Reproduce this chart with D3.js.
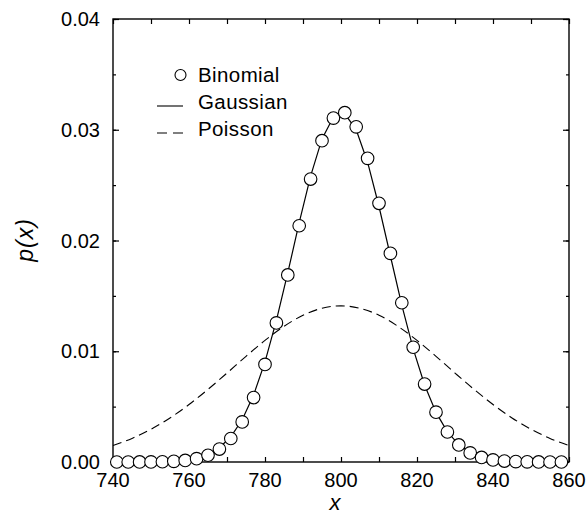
<!DOCTYPE html>
<html>
<head>
<meta charset="utf-8">
<script src="https://cdn.jsdelivr.net/npm/d3@7"></script>
<style>
  body { margin: 0; background: #fff; }
  svg { display: block; font-family: "Liberation Sans", Arial, sans-serif; }
</style>
</head>
<body>
<div id="chart"></div>
<script>
// binomial points (x, p)
const binomX = [741, 744, 747, 750, 753, 756, 759, 762, 765, 768, 771, 774, 777, 780, 783, 786, 789, 792, 795, 798,
  801, 804, 807, 810, 813, 816, 819, 822, 825, 828, 831, 834, 837, 840, 843, 846, 849, 852, 855, 858];
const binomP = [0.0000003, 0.000001, 0.000003, 0.000009, 0.000024, 0.00006, 0.00014, 0.0003, 0.00061, 0.00117,
  0.00212, 0.00362, 0.00582, 0.00881, 0.01256, 0.01689, 0.02133, 0.02555, 0.02901, 0.03105,
  0.03154, 0.03026, 0.02742, 0.02336, 0.01884, 0.01438, 0.01036, 0.00704, 0.0045, 0.00271,
  0.00154, 0.00082, 0.00041, 0.00019, 0.000085, 0.000035, 0.000013, 0.000005, 0.000002, 0.0000005];
// gaussian curve, same x
const gaussP = [0.0000006, 0.0000017, 0.0000049, 0.0000128, 0.000032, 0.000074, 0.000165, 0.000346, 0.000686, 0.00129,
  0.00228, 0.00381, 0.00604, 0.00904, 0.01278, 0.01709, 0.02161, 0.02582, 0.02917, 0.03115,
  0.03144, 0.03, 0.02707, 0.02307, 0.0186, 0.01417, 0.01021, 0.00695, 0.00448, 0.00272,
  0.00157, 0.00085, 0.00044, 0.00021, 0.0001, 0.000045, 0.000019, 0.000007, 0.0000025, 0.0000008];
// poisson curve
const poisX = [740, 745, 750, 755, 760, 765, 770, 775, 780, 785, 790, 795, 800,
  805, 810, 815, 820, 825, 830, 835, 840, 845, 850, 855, 860];
const poisP = [0.00149, 0.00213, 0.00296, 0.00398, 0.00519, 0.00656, 0.00803, 0.00954, 0.01098, 0.01225, 0.01325, 0.01388, 0.0141,
  0.01388, 0.01325, 0.01225, 0.01098, 0.00954, 0.00803, 0.00656, 0.00519, 0.00398, 0.00296, 0.00213, 0.00149];

const xTicks = [740, 760, 780, 800, 820, 840, 860];
const yTicks = [0, 0.01, 0.02, 0.03, 0.04];
const legendLabels = ["Binomial", "Gaussian", "Poisson"];

const W = 587, H = 515;
const margin = { top: 19, right: 18, bottom: 53, left: 113 };

const svg = d3.select("#chart").append("svg")
  .attr("width", W)
  .attr("height", H);

const x = d3.scaleLinear().domain([740, 860]).range([margin.left, W - margin.right]);
const y = d3.scaleLinear().domain([0, 0.04]).range([H - margin.bottom, margin.top]);

// axes - ticks pointing inward on all sides
const minorX = d3.range(740, 861, 10);
const minorY = d3.range(0, 0.0401, 0.005);

svg.append("g")
  .attr("transform", `translate(0,${y(0)})`)
  .call(d3.axisBottom(x).tickValues(minorX).tickSize(-5).tickFormat(""))
  .call(g => g.select(".domain").remove());
svg.append("g")
  .attr("transform", `translate(0,${y(0.04)})`)
  .call(d3.axisTop(x).tickValues(minorX).tickSize(-5).tickFormat(""))
  .call(g => g.select(".domain").remove());
svg.append("g")
  .attr("transform", `translate(${x(740)},0)`)
  .call(d3.axisLeft(y).tickValues(minorY).tickSize(-3).tickFormat(""))
  .call(g => g.select(".domain").remove());
svg.append("g")
  .attr("transform", `translate(${x(740)},0)`)
  .call(d3.axisLeft(y).tickValues(yTicks).tickSize(-6).tickFormat(""))
  .call(g => g.select(".domain").remove());
svg.append("g")
  .attr("transform", `translate(${x(860)},0)`)
  .call(d3.axisRight(y).tickValues(minorY).tickSize(-3).tickFormat(""))
  .call(g => g.select(".domain").remove());
svg.append("g")
  .attr("transform", `translate(${x(860)},0)`)
  .call(d3.axisRight(y).tickValues(yTicks).tickSize(-6).tickFormat(""))
  .call(g => g.select(".domain").remove());

svg.selectAll(".tick line").attr("stroke", "#000").attr("stroke-width", 1.2);

svg.append("rect")
  .attr("x", x(740)).attr("y", y(0.04))
  .attr("width", x(860) - x(740)).attr("height", y(0) - y(0.04))
  .attr("fill", "none").attr("stroke", "#000").attr("stroke-width", 1.4);

// tick labels
svg.append("g").selectAll("text")
  .data(xTicks).enter().append("text")
  .attr("x", d => x(d))
  .attr("y", y(0) + 25)
  .attr("text-anchor", "middle")
  .style("font-size", "20px")
  .text(d => d);

svg.append("g").selectAll("text")
  .data(yTicks).enter().append("text")
  .attr("x", x(740) - 13)
  .attr("y", d => y(d))
  .attr("dy", "0.35em")
  .attr("text-anchor", "end")
  .style("font-size", "20px")
  .text(d => d.toFixed(2));

// axis titles
svg.append("text")
  .attr("x", 335)
  .attr("y", 510)
  .attr("text-anchor", "middle")
  .style("font-size", "22px")
  .style("font-style", "italic")
  .text("x");

svg.append("text")
  .attr("transform", "translate(33,240) rotate(-90)")
  .attr("text-anchor", "middle")
  .style("font-size", "23px")
  .style("font-style", "italic")
  .style("letter-spacing", "1px")
  .text("p(x)");

// curves
const poisData = poisX.map((d, i) => ({ x: d, p: poisP[i] }));
const gaussData = binomX.map((d, i) => ({ x: d, p: gaussP[i] }));
const binomData = binomX.map((d, i) => ({ x: d, p: binomP[i] }));

svg.append("path")
  .datum(poisData)
  .attr("fill", "none")
  .attr("stroke", "#000")
  .attr("stroke-width", 1.1)
  .attr("stroke-dasharray", "9,5")
  .attr("d", d3.line().x(d => x(d.x)).y(d => y(d.p)).curve(d3.curveMonotoneX));

svg.append("path")
  .datum(gaussData)
  .attr("fill", "none")
  .attr("stroke", "#000")
  .attr("stroke-width", 1.2)
  .attr("d", d3.line().x(d => x(d.x)).y(d => y(d.p)));

svg.append("g").selectAll("circle")
  .data(binomData).enter().append("circle")
  .attr("cx", d => x(d.x))
  .attr("cy", d => y(d.p))
  .attr("r", 6.3)
  .attr("fill", "#fff")
  .attr("stroke", "#000")
  .attr("stroke-width", 1.1);

// legend
const legend = svg.append("g");
legend.append("circle")
  .attr("cx", 180.5).attr("cy", 75).attr("r", 5.5)
  .attr("fill", "#fff").attr("stroke", "#000").attr("stroke-width", 1.1);
legend.append("line")
  .attr("x1", 157).attr("x2", 183).attr("y1", 106).attr("y2", 106)
  .attr("stroke", "#000").attr("stroke-width", 1.1);
legend.append("line")
  .attr("x1", 157).attr("x2", 183).attr("y1", 133).attr("y2", 133)
  .attr("stroke", "#000").attr("stroke-width", 1.1)
  .attr("stroke-dasharray", "10,6");

legend.selectAll("text")
  .data(legendLabels).enter().append("text")
  .attr("x", 198)
  .attr("y", (d, i) => 82 + i * 27)
  .style("font-size", "20.5px")
  .style("letter-spacing", "0.4px")
  .text(d => d);
</script>
</body>
</html>
